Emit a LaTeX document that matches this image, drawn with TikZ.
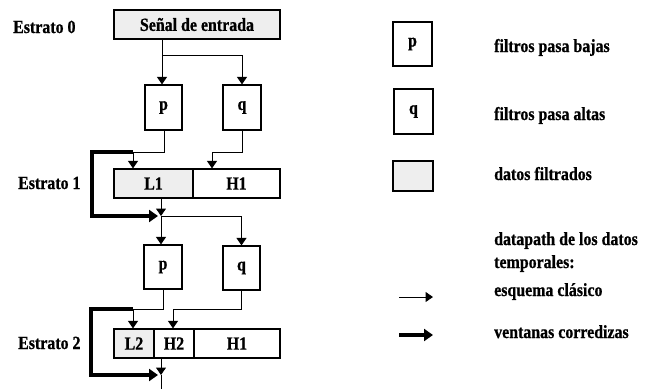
\documentclass[tikz,border=0pt]{standalone}
\usepackage{fontspec}
\setmainfont{Liberation Serif}[FakeStretch=0.86,BoldFeatures={FakeBold=0.8}]
\usetikzlibrary{arrows.meta}
\begin{document}
\begin{tikzpicture}[x=1pt,y=-1pt,
  every node/.style={font=\bfseries\fontsize{18.5}{20}\selectfont},
  box/.style={draw,line width=1.2pt,inner sep=0pt,align=center},
  filled/.style={fill=gray!13},
  lbl/.style={anchor=base west,inner sep=0pt},
  arr/.style={line width=1pt,-{Triangle[width=10pt,length=7.5pt]}},
  thk/.style={line width=3.5pt,-{Triangle[width=12pt,length=9pt]}}]
\useasboundingbox (0,0) rectangle (648,389);

% left labels
\node[lbl] (s0) at (13,33) {Estrato 0};
\node[lbl] (s1) at (18,189) {Estrato 1};
\node[lbl] (s2) at (18,349) {Estrato 2};

% boxes
\node[box,filled,minimum width=166pt,minimum height=29pt] (sig) at (197,24.5) {Señal de entrada};
\node[box,minimum width=37pt,minimum height=45pt] (p1) at (163.5,107.5) {p};
\node[box,minimum width=38pt,minimum height=45pt] (q1) at (242,107.5) {q};
\node[box,filled,minimum width=79pt,minimum height=29pt] (L1) at (153.5,183.5) {L1};
\node[box,minimum width=87pt,minimum height=29pt] (H1) at (236.5,183.5) {H1};
\node[box,minimum width=38pt,minimum height=44pt] (p2) at (163,267) {p};
\node[box,minimum width=37pt,minimum height=44pt] (q2) at (241.5,268) {q};
\node[box,filled,minimum width=40pt,minimum height=29pt] (L2) at (134,343.5) {L2};
\node[box,minimum width=40pt,minimum height=29pt] (H2) at (174,343.5) {H2};
\node[box,minimum width=86pt,minimum height=29pt] (H1b) at (237,343.5) {H1};

% junction coordinates
\coordinate (a0) at (162,55);
\coordinate (b1) at (164,152);
\coordinate (c1) at (133,152);
\coordinate (d1) at (212,152);
\coordinate (e1) at (92,152);
\coordinate (f1) at (161,216);
\coordinate (b2) at (163,309);
\coordinate (c2) at (133,309);
\coordinate (d2) at (173,309);
\coordinate (e2) at (91,309);
\coordinate (f2) at (161,375);
\coordinate (g2) at (161,389);

% stratum 0 -> 1
\draw[arr] (sig.south -| a0) -- (p1.north -| a0);
\draw[arr] (a0) -| (q1.north);
\draw[arr] (p1.south -| b1) |- (c1) -- (L1.north -| c1);
\draw[arr] (q1.south) |- (d1) -- (H1.north -| d1);
\draw[thk,shorten >=3pt] (c1) -- (e1) |- (f1);
\draw[arr] (L1.south -| f1) -- (f1);

% stratum 1 -> 2
\draw[arr] (f1) -- (p2.north -| f1);
\draw[arr] (f1) -| (q2.north);
\draw[arr] (p2.south -| b2) |- (c2) -- (L2.north -| c2);
\draw[arr] (q2.south) |- (d2) -- (H2.north -| d2);
\draw[thk,shorten >=3pt] (c2) -- (e2) |- (f2);
\draw[arr] (L2.south -| f2) -- (f2);
\draw[line width=1pt] (f2) -- (g2);

% legend
\node[box,minimum width=39pt,minimum height=44pt] (lp) at (412.5,44) {p};
\node[box,minimum width=39pt,minimum height=45pt] (lq) at (413.5,111.5) {q};
\node[box,filled,minimum width=40pt,minimum height=30pt] (lg) at (413,176) {};
\node[lbl] (t1) at (494,52) {filtros pasa bajas};
\node[lbl] (t2) at (494,120) {filtros pasa altas};
\node[lbl] (t3) at (494,180) {datos filtrados};
\node[lbl] (t4) at (494,245) {datapath de los datos};
\node[lbl] (t5) at (494,268) {temporales:};
\node[lbl] (t6) at (494,296) {esquema clásico};
\node[lbl] (t7) at (494,338) {ventanas corredizas};
\coordinate (la1) at (399,297);
\coordinate (lb1) at (433,297);
\coordinate (la2) at (399,335);
\coordinate (lb2) at (433,335);
\draw[arr] (la1) -- (lb1);
\draw[thk] (la2) -- (lb2);
\end{tikzpicture}
\end{document}
